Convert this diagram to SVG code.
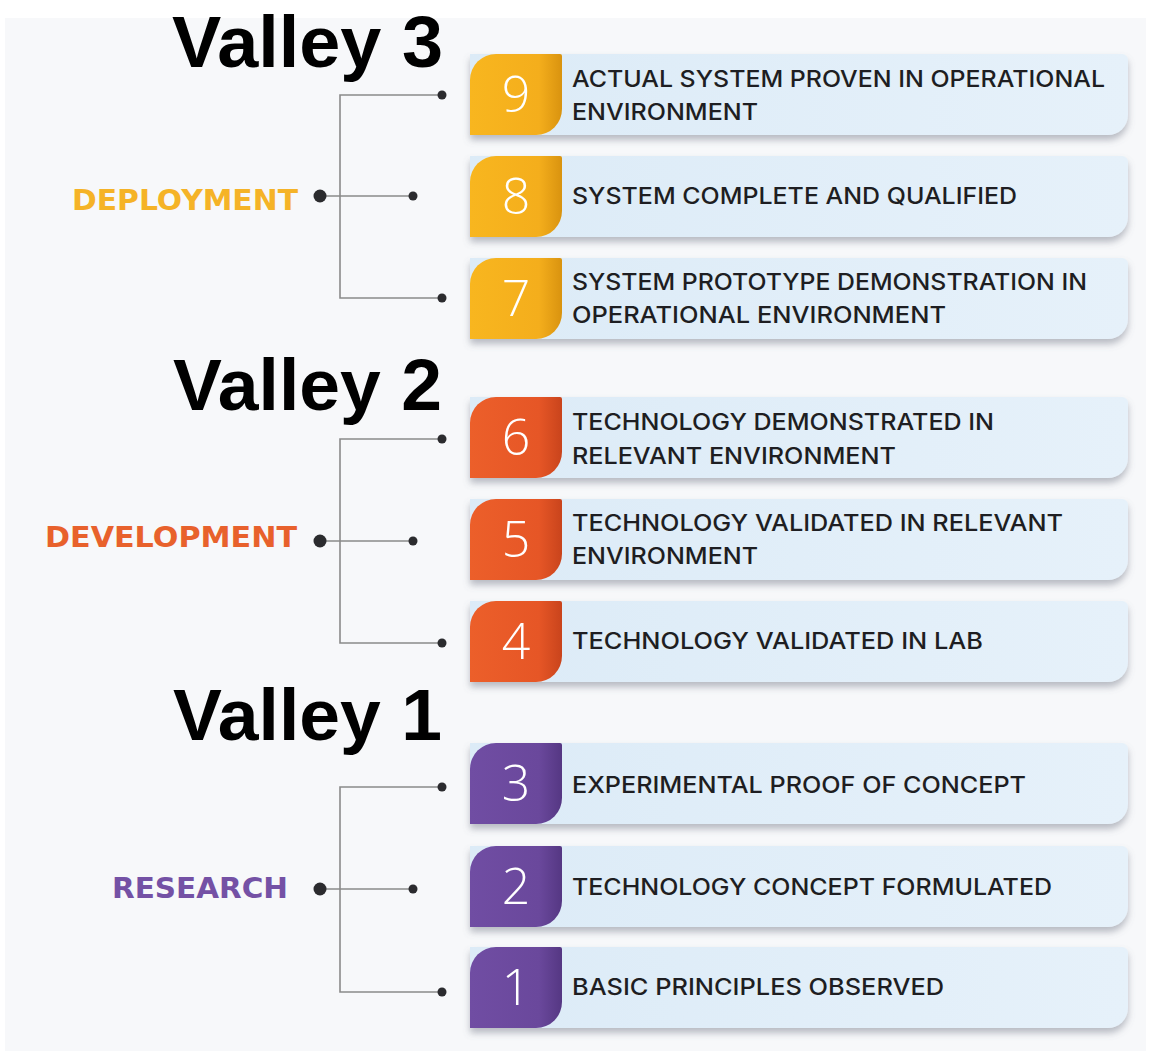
<svg xmlns="http://www.w3.org/2000/svg" width="1151" height="1053" viewBox="0 0 1151 1053">
<defs>
<style>
.valley{font-family:"Liberation Sans","Open Sans",sans-serif;font-weight:700;font-size:73px;fill:#000}
.phase{font-family:"DejaVu Sans","Liberation Sans",sans-serif;font-weight:700;font-size:29px}
.num{font-family:"Open Sans","Liberation Sans",sans-serif;font-weight:300;font-size:50px;fill:#fff;text-anchor:middle}
.txt{font-family:Inter,"Noto Sans","Liberation Sans",sans-serif;font-weight:500;font-size:23px;fill:#1e1e22}
.body{fill:url(#bodyG)}
.conn{stroke:#8a8a8a;stroke-width:1.6;fill:none}
.dot{fill:#2b2b2e}
</style>
<linearGradient id="bodyG" x1="0" y1="0" x2="1" y2="0">
<stop offset="0" stop-color="#dcebf7"/>
<stop offset="1" stop-color="#e6f1fa"/>
</linearGradient>
<linearGradient id="yel" x1="0" y1="0" x2="1" y2="0">
<stop offset="0" stop-color="#f8b61f"/>
<stop offset="0.75" stop-color="#f4ae1c"/>
<stop offset="1" stop-color="#d9930f"/>
</linearGradient>
<linearGradient id="ora" x1="0" y1="0" x2="1" y2="0">
<stop offset="0" stop-color="#ec5f2a"/>
<stop offset="0.75" stop-color="#e65626"/>
<stop offset="1" stop-color="#c9441c"/>
</linearGradient>
<linearGradient id="pur" x1="0" y1="0" x2="1" y2="0">
<stop offset="0" stop-color="#704da3"/>
<stop offset="0.75" stop-color="#6a489c"/>
<stop offset="1" stop-color="#553783"/>
</linearGradient>
<filter id="sh" x="-5%" y="-20%" width="110%" height="150%">
<feDropShadow dx="0" dy="5" stdDeviation="3.5" flood-color="#6b7280" flood-opacity="0.45"/>
</filter>
<path id="bodyP" d="M0,0 H652 A6,6 0 0 1 658,6 V61 A20,20 0 0 1 638,81 H0 Z"/>
<path id="tabP" d="M0,81 V26 A26,26 0 0 1 26,0 H90 A2,2 0 0 1 92,2 V55 A26,26 0 0 1 66,81 Z"/>
</defs>

<rect x="0" y="0" width="1151" height="1053" fill="#ffffff"/>
<rect x="5" y="18" width="1141" height="1033" fill="#f7f8fa"/>

<g id="connectors">
<path class="conn" d="M442,95 H340 V298 H442 M320,196 H413"/>
<path class="conn" d="M442,439 H340 V643 H442 M320,541 H413"/>
<path class="conn" d="M442,787 H340 V992 H442 M320,889 H413"/>
<circle class="dot" cx="320" cy="196" r="6.5"/><circle class="dot" cx="413" cy="196" r="4.5"/>
<circle class="dot" cx="442" cy="95" r="4.5"/><circle class="dot" cx="442" cy="298" r="4.5"/>
<circle class="dot" cx="320" cy="541" r="6.5"/><circle class="dot" cx="413" cy="541" r="4.5"/>
<circle class="dot" cx="442" cy="439" r="4.5"/><circle class="dot" cx="442" cy="643" r="4.5"/>
<circle class="dot" cx="320" cy="889" r="6.5"/><circle class="dot" cx="413" cy="889" r="4.5"/>
<circle class="dot" cx="442" cy="787" r="4.5"/><circle class="dot" cx="442" cy="992" r="4.5"/>
</g>

<g id="valley-3"><text class="valley" x="172" y="67" textLength="271" lengthAdjust="spacingAndGlyphs">Valley 3</text></g>
<g id="valley-2"><text class="valley" x="173" y="410" textLength="269" lengthAdjust="spacingAndGlyphs">Valley 2</text></g>
<g id="valley-1"><text class="valley" x="173" y="740" textLength="269" lengthAdjust="spacingAndGlyphs">Valley 1</text></g>

<g id="phase-deployment"><text class="phase" x="72" y="210" fill="#f5b327" textLength="226" lengthAdjust="spacingAndGlyphs">DEPLOYMENT</text></g>
<g id="phase-development"><text class="phase" x="45" y="547" fill="#e8612c" textLength="252" lengthAdjust="spacingAndGlyphs">DEVELOPMENT</text></g>
<g id="phase-research"><text class="phase" x="112" y="898" fill="#7451a5" textLength="176" lengthAdjust="spacingAndGlyphs">RESEARCH</text></g>

<g id="trl-9" transform="translate(470,54)">
<use href="#bodyP" class="body" filter="url(#sh)"/>
<use href="#tabP" fill="url(#yel)"/>
<text class="num" x="46" y="58">9</text>
<text class="txt" x="102" y="33" textLength="533" lengthAdjust="spacingAndGlyphs">ACTUAL SYSTEM PROVEN IN OPERATIONAL</text>
<text class="txt" x="102" y="66" textLength="186" lengthAdjust="spacingAndGlyphs">ENVIRONMENT</text>
</g>
<g id="trl-8" transform="translate(470,156)">
<use href="#bodyP" class="body" filter="url(#sh)"/>
<use href="#tabP" fill="url(#yel)"/>
<text class="num" x="46" y="58">8</text>
<text class="txt" x="102" y="48" textLength="445" lengthAdjust="spacingAndGlyphs">SYSTEM COMPLETE AND QUALIFIED</text>
</g>
<g id="trl-7" transform="translate(470,258)">
<use href="#bodyP" class="body" filter="url(#sh)"/>
<use href="#tabP" fill="url(#yel)"/>
<text class="num" x="46" y="58">7</text>
<text class="txt" x="102" y="32" textLength="515" lengthAdjust="spacingAndGlyphs">SYSTEM PROTOTYPE DEMONSTRATION IN</text>
<text class="txt" x="102" y="65" textLength="374" lengthAdjust="spacingAndGlyphs">OPERATIONAL ENVIRONMENT</text>
</g>

<g id="trl-6" transform="translate(470,397)">
<use href="#bodyP" class="body" filter="url(#sh)"/>
<use href="#tabP" fill="url(#ora)"/>
<text class="num" x="46" y="58">6</text>
<text class="txt" x="102" y="33" textLength="422" lengthAdjust="spacingAndGlyphs">TECHNOLOGY DEMONSTRATED IN</text>
<text class="txt" x="102" y="67" textLength="324" lengthAdjust="spacingAndGlyphs">RELEVANT ENVIRONMENT</text>
</g>
<g id="trl-5" transform="translate(470,499)">
<use href="#bodyP" class="body" filter="url(#sh)"/>
<use href="#tabP" fill="url(#ora)"/>
<text class="num" x="46" y="58">5</text>
<text class="txt" x="102" y="32" textLength="491" lengthAdjust="spacingAndGlyphs">TECHNOLOGY VALIDATED IN RELEVANT</text>
<text class="txt" x="102" y="65" textLength="186" lengthAdjust="spacingAndGlyphs">ENVIRONMENT</text>
</g>
<g id="trl-4" transform="translate(470,601)">
<use href="#bodyP" class="body" filter="url(#sh)"/>
<use href="#tabP" fill="url(#ora)"/>
<text class="num" x="46" y="58">4</text>
<text class="txt" x="102" y="48" textLength="411" lengthAdjust="spacingAndGlyphs">TECHNOLOGY VALIDATED IN LAB</text>
</g>

<g id="trl-3" transform="translate(470,743)">
<use href="#bodyP" class="body" filter="url(#sh)"/>
<use href="#tabP" fill="url(#pur)"/>
<text class="num" x="46" y="58">3</text>
<text class="txt" x="102" y="50" textLength="454" lengthAdjust="spacingAndGlyphs">EXPERIMENTAL PROOF OF CONCEPT</text>
</g>
<g id="trl-2" transform="translate(470,846)">
<use href="#bodyP" class="body" filter="url(#sh)"/>
<use href="#tabP" fill="url(#pur)"/>
<text class="num" x="46" y="58">2</text>
<text class="txt" x="102" y="49" textLength="480" lengthAdjust="spacingAndGlyphs">TECHNOLOGY CONCEPT FORMULATED</text>
</g>
<g id="trl-1" transform="translate(470,947)">
<use href="#bodyP" class="body" filter="url(#sh)"/>
<use href="#tabP" fill="url(#pur)"/>
<text class="num" x="46" y="58">1</text>
<text class="txt" x="102" y="48" textLength="372" lengthAdjust="spacingAndGlyphs">BASIC PRINCIPLES OBSERVED</text>
</g>
</svg>
